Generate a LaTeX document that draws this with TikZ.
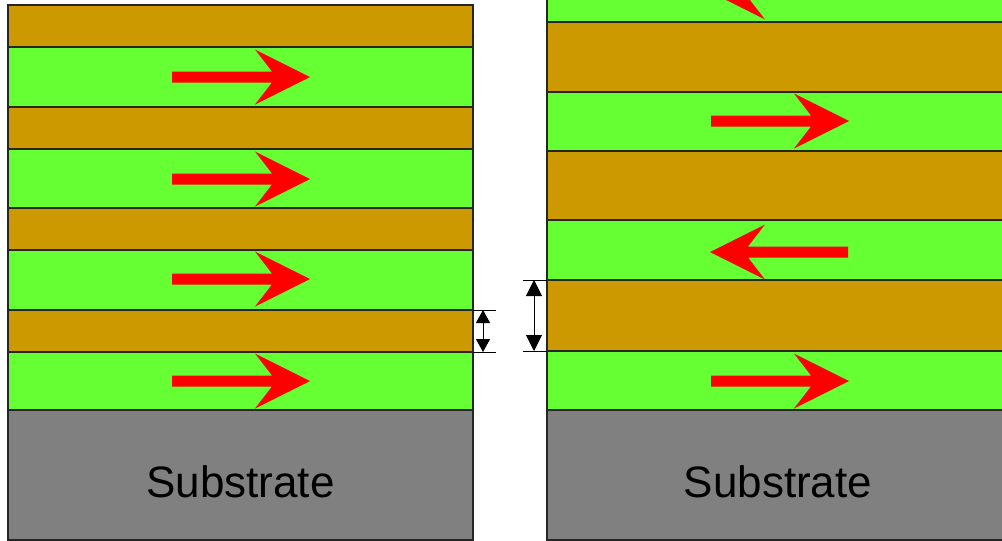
\documentclass[tikz,border=0pt]{standalone}
\usepackage{fontspec}
\setmainfont{Liberation Sans}
\usetikzlibrary{arrows.meta}

\definecolor{spacer}{HTML}{CC9900}
\definecolor{magnet}{HTML}{66FF33}
\definecolor{base}{HTML}{808080}

\tikzset{
  layer/.style={draw=black!85, line width=1.2pt},
  dimline/.style={draw=black, line width=0.9pt},
  moment/.pic={
    \fill[red] (0,-5.5) -- (100,-5.5) -- (83,-27.5) -- (138,0)
      -- (83,27.5) -- (100,5.5) -- (0,5.5) -- cycle;
  }
}

\begin{document}
\begin{tikzpicture}[x=1pt, y=-1pt]
  \useasboundingbox (0,0) rectangle (1002,541);
  \clip (0,0) rectangle (1002,541);

  % left stack, thin spacers
  \foreach \top/\bot/\col in {5/47/spacer, 47/107/magnet, 107/149/spacer,
      149/208/magnet, 208/250/spacer, 250/310/magnet, 310/352/spacer,
      352/410/magnet, 410/540/base}
    \filldraw[layer, fill=\col] (8,\top) rectangle (473,\bot);

  % right stack, thick spacers
  \foreach \top/\bot/\col in {-38/22/magnet, 22/92/spacer, 92/151/magnet,
      151/220/spacer, 220/280/magnet, 280/351/spacer, 351/410/magnet,
      410/540/base}
    \filldraw[layer, fill=\col] (547,\top) rectangle (1012,\bot);

  % magnetisation
  \foreach \y in {77,179,279,381}
    \pic at (172,\y) {moment};
  \pic at (711,121) {moment};
  \pic at (711,381) {moment};
  \pic[xscale=-1] at (848,252) {moment};
  \pic[xscale=-1] at (848,-8) {moment};

  \node (subl) at (240.5,482) {\fontsize{44}{44}\selectfont Substrate};
  \node (subr) at (778,482) {\fontsize{44}{44}\selectfont Substrate};

  % spacer thickness
  \coordinate (ltop) at (483,310);
  \coordinate (lbot) at (483,352);
  \draw[dimline] (473,310) -- (496,310);
  \draw[dimline] (473,352) -- (496,352);
  \draw[dimline, {Triangle[length=13pt,width=14pt]}-{Triangle[length=13pt,width=14pt]}]
    (ltop) -- (lbot);

  \coordinate (rtop) at (534,280);
  \coordinate (rbot) at (534,351);
  \draw[dimline] (523,280) -- (547,280);
  \draw[dimline] (523,351) -- (547,351);
  \draw[dimline, {Triangle[length=16pt,width=16pt]}-{Triangle[length=16pt,width=16pt]}]
    (rtop) -- (rbot);

\end{tikzpicture}
\end{document}
